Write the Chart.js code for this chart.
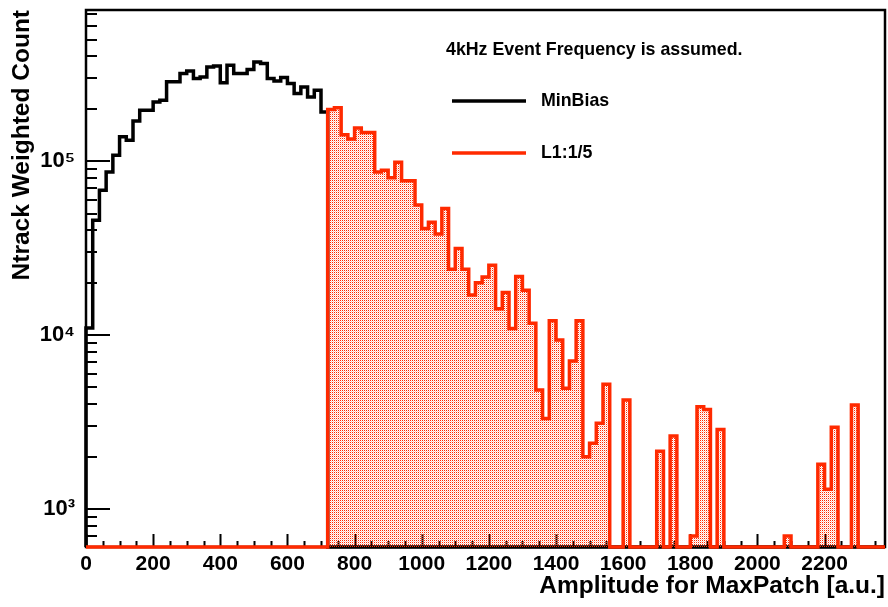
<!DOCTYPE html>
<html>
<head>
<meta charset="utf-8">
<script src="https://cdn.jsdelivr.net/npm/chart.js@4.4.1/dist/chart.umd.min.js"></script>
<style>
html,body{margin:0;padding:0;background:#fff;}
canvas{display:block;}
</style>
</head>
<body>
<canvas id="c" width="888" height="607"></canvas>
<script>
// ---------------- data ----------------
const BIN_WIDTH = 20;
const X_MIN = 0, X_MAX = 2380;
const Y_MIN = 605, Y_MAX = 7.4e5;
const L1_START = 720;

// MinBias histogram, bins of 20 starting at 0
const minBias = [1.10e4, 4.58e4, 6.81e4, 8.68e4, 1.08e5, 1.38e5, 1.32e5, 1.70e5, 1.96e5, 1.96e5,
  2.19e5, 2.24e5, 2.86e5, 2.86e5, 3.19e5, 3.30e5, 2.99e5, 3.05e5, 3.48e5, 3.53e5,
  2.82e5, 3.56e5, 3.19e5, 3.19e5, 3.37e5, 3.72e5, 3.64e5, 2.99e5, 2.89e5, 3.03e5,
  2.80e5, 2.45e5, 2.67e5, 2.34e5, 2.56e5, 1.92e5];

// L1:1/5 histogram, bins of 20 starting at 720
const l1 = [1.98e5, 2.03e5, 1.42e5, 1.34e5, 1.55e5, 1.46e5, 1.46e5, 8.68e4, 8.88e4, 8.04e4,
  9.87e4, 7.73e4, 7.73e4, 5.59e4, 4.10e4, 4.45e4, 3.82e4, 5.35e4, 2.39e4, 3.15e4,
  2.39e4, 1.70e4, 2.00e4, 2.16e4, 2.52e4, 1.42e4, 1.76e4, 1.09e4, 2.17e4, 1.81e4,
  1.17e4, 4.83e3, 3.32e3, 1.21e4, 9.36e3, 4.95e3, 7.11e3, 1.21e4, 2.00e3, 2.39e3,
  3.11e3, 5.21e3, 0, 0, 4.23e3, 0, 0, 0, 0, 2.15e3,
  0, 2.63e3, 0, 0, 700, 3.87e3, 3.74e3, 0, 2.87e3, 0,
  0, 0, 0, 0, 0, 0, 0, 0, 700, 0,
  0, 0, 0, 1.81e3, 1.30e3, 2.95e3, 0, 0, 3.96e3, 0,
  0, 0, 0];

const X_TICKS = [0, 200, 400, 600, 800, 1000, 1200, 1400, 1600, 1800, 2000, 2200];
const X_TICK_LABELS = ['0', '200', '400', '600', '800', '1000', '1200', '1400', '1600', '1800', '2000', '2200'];
const Y_TICKS = [1e3, 1e4, 1e5];
const Y_TICK_LABELS = ['10\u00B3', '10\u2074', '10\u2075'];

const SERIES_LABELS = ['MinBias', 'L1:1/5'];
const NOTE = '4kHz Event Frequency is assumed.';
const X_TITLE = 'Amplitude for MaxPatch [a.u.]';
const Y_TITLE = 'Ntrack Weighted Count';

// ---------------- styles ----------------
const RED = '#ff2a00';
const BLACK = '#000000';
const FONT = '"Liberation Sans", Arial, Helvetica, sans-serif';
const LINE_W = 3.5;

// ---------------- build datasets ----------------
function floorV(v) { return v > 0 ? v : Y_MIN; }

const blackData = [{x: 0, y: Y_MIN}];
minBias.forEach((v, i) => blackData.push({x: i * BIN_WIDTH, y: floorV(v)}));
blackData.push({x: minBias.length * BIN_WIDTH, y: Y_MIN});
blackData.push({x: X_MAX, y: Y_MIN});

const redData = [{x: 0, y: Y_MIN}];
l1.forEach((v, k) => redData.push({x: L1_START + k * BIN_WIDTH, y: floorV(v)}));
redData.push({x: X_MAX, y: Y_MIN});

const canvas = document.getElementById('c');
const ctx = canvas.getContext('2d');

const pc = document.createElement('canvas');
pc.width = 2; pc.height = 2;
const pctx = pc.getContext('2d');
pctx.fillStyle = RED;
pctx.fillRect(0, 0, 1, 1);
pctx.globalAlpha = 0.25;
pctx.fillRect(1, 1, 1, 1);
const stipple = ctx.createPattern(pc, 'repeat');

// frame + ticks drawn beneath histograms (like ROOT, visible through stipple)
const framePlugin = {
  id: 'frame',
  beforeDatasetsDraw(chart) {
    const {ctx, chartArea: a, scales} = chart;
    const xs = scales.x, ys = scales.y;
    ctx.save();
    ctx.strokeStyle = BLACK;
    ctx.lineWidth = 2;
    ctx.beginPath();
    for (let v = X_MIN; v <= X_MAX; v += 50) {
      const px = Math.round(xs.getPixelForValue(v)) + 0.5;
      const len = (v % 200 === 0) ? 13 : 6;
      ctx.moveTo(px, a.bottom);
      ctx.lineTo(px, a.bottom - len);
    }
    for (let d = 2; d <= 6; d++) {
      for (let m = 1; m <= 9; m++) {
        const v = m * Math.pow(10, d);
        if (v < Y_MIN || v > Y_MAX) continue;
        const py = Math.round(ys.getPixelForValue(v));
        const len = m === 1 ? 24 : 11;
        ctx.moveTo(a.left, py);
        ctx.lineTo(a.left + len, py);
      }
    }
    ctx.stroke();
    ctx.lineWidth = 2.5;
    ctx.strokeRect(a.left, a.top, a.right - a.left, a.bottom - a.top);
    ctx.restore();
  },
  afterDatasetsDraw(chart) {
    const {ctx} = chart;
    ctx.save();
    ctx.fillStyle = BLACK;
    ctx.textBaseline = 'middle';
    ctx.textAlign = 'left';
    ctx.font = 'bold 17.8px ' + FONT;
    ctx.fillText(NOTE, 446, 50);
    const entries = [
      {label: SERIES_LABELS[0], color: BLACK, y: 101},
      {label: SERIES_LABELS[1], color: RED, y: 153}
    ];
    entries.forEach(e => {
      ctx.strokeStyle = e.color;
      ctx.lineWidth = LINE_W;
      ctx.beginPath();
      ctx.moveTo(452, e.y);
      ctx.lineTo(526, e.y);
      ctx.stroke();
      ctx.fillStyle = BLACK;
      ctx.fillText(e.label, 541, e.y);
    });
    ctx.restore();
  }
};

function noPad(s) { s.paddingTop = 0; s.paddingBottom = 0; s.paddingLeft = 0; s.paddingRight = 0; }

new Chart(ctx, {
  type: 'line',
  data: {
    datasets: [
      {
        label: SERIES_LABELS[1],
        data: redData,
        borderColor: RED,
        borderWidth: LINE_W,
        backgroundColor: stipple,
        fill: 'start',
        stepped: true,
        pointRadius: 0,
        tension: 0,
        clip: 4
      },
      {
        label: SERIES_LABELS[0],
        data: blackData,
        borderColor: BLACK,
        borderWidth: LINE_W,
        fill: false,
        stepped: true,
        pointRadius: 0,
        tension: 0,
        clip: 4
      }
    ]
  },
  options: {
    responsive: false,
    devicePixelRatio: 1,
    animation: false,
    layout: {padding: {top: 10, right: 3, left: 0, bottom: 0}},
    plugins: {legend: {display: false}, tooltip: {enabled: false}, title: {display: false}},
    scales: {
      x: {
        type: 'linear',
        min: X_MIN,
        max: X_MAX,
        grid: {display: false, drawTicks: false},
        border: {display: false},
        afterBuildTicks: s => { s.ticks = X_TICKS.map(v => ({value: v})); },
        afterFit: s => { s.height = 60; noPad(s); },
        ticks: {
          autoSkip: false,
          maxRotation: 0,
          padding: 5,
          color: BLACK,
          font: {family: FONT, size: 21, weight: 'bold'},
          callback: (v, i) => X_TICK_LABELS[i]
        },
        title: {
          display: true,
          text: X_TITLE,
          align: 'end',
          color: BLACK,
          font: {family: FONT, size: 24.5, weight: 'bold'},
          padding: {top: 0, bottom: 6}
        }
      },
      y: {
        type: 'logarithmic',
        min: Y_MIN,
        max: Y_MAX,
        grid: {display: false, drawTicks: false},
        border: {display: false},
        afterBuildTicks: s => { s.ticks = Y_TICKS.map(v => ({value: v})); },
        afterFit: s => { s.width = 86; noPad(s); },
        ticks: {
          autoSkip: false,
          padding: 11,
          color: BLACK,
          font: {family: FONT, size: 22, weight: 'bold'},
          callback: (v, i) => Y_TICK_LABELS[i]
        },
        title: {
          display: true,
          text: Y_TITLE,
          align: 'end',
          color: BLACK,
          font: {family: FONT, size: 24.5, weight: 'bold'},
          padding: {top: 8, bottom: 0}
        }
      }
    }
  },
  plugins: [framePlugin]
});
</script>
</body>
</html>
